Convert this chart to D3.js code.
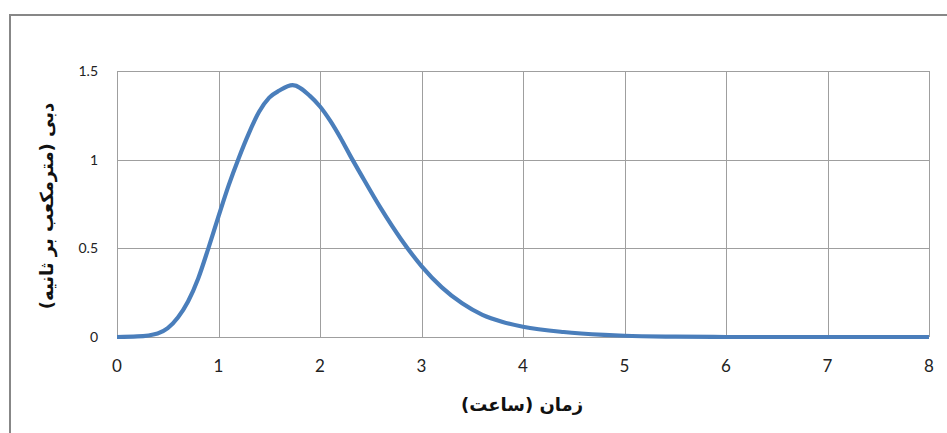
<!DOCTYPE html>
<html>
<head>
<meta charset="utf-8">
<script src="https://cdn.jsdelivr.net/npm/d3@7"></script>
<style>
  body { margin: 0; background: #fff; }
</style>
</head>
<body>
<svg id="chart"></svg>
<script>
// time in hours
const hours = [0, 0.2, 0.4, 0.5, 0.6, 0.7, 0.8, 0.9, 1.0, 1.1, 1.2, 1.3, 1.4, 1.5, 1.6, 1.73,
    1.9, 2.0, 2.1, 2.2, 2.3, 2.4, 2.6, 2.8, 3.0, 3.2, 3.4, 3.6, 3.8, 4.0, 4.4, 4.8, 5.0, 5.5, 6, 7, 8];
// discharge (m3/s)
const flow = [0, 0.003, 0.02, 0.05, 0.11, 0.2, 0.33, 0.5, 0.68, 0.855, 1.01, 1.15, 1.27, 1.35, 1.39, 1.42,
    1.36, 1.30, 1.22, 1.125, 1.02, 0.92, 0.725, 0.55, 0.40, 0.28, 0.19, 0.125, 0.085, 0.058, 0.028, 0.012, 0.007, 0.002, 0, 0, 0];
const xTicks = [0, 1, 2, 3, 4, 5, 6, 7, 8];
const yTicks = [0, 0.5, 1, 1.5];
const xTitle = 'زمان (ساعت)';
const yTitle = 'دبی (مترمکعب بر ثانیه)';

const data = hours.map((h, i) => ({ x: h, y: flow[i] }));

const width = 947, height = 433;
const plot = { left: 117, right: 929, top: 71, bottom: 337 };

const svg = d3.select('#chart')
    .attr('width', width)
    .attr('height', height);

// outer frame
svg.append('path')
    .attr('d', `M10,${height} L10,15 L${width},15`)
    .attr('fill', 'none')
    .attr('stroke', '#878787')
    .attr('stroke-width', 2);

const xscale = d3.scaleLinear().domain([0, 8]).range([plot.left, plot.right]);
const yscale = d3.scaleLinear().domain([0, 1.5]).range([plot.bottom, plot.top]);

// grid
svg.append('g').selectAll('line')
    .data(xTicks)
    .join('line')
    .attr('x1', d => Math.round(xscale(d)) + 0.5)
    .attr('x2', d => Math.round(xscale(d)) + 0.5)
    .attr('y1', plot.top)
    .attr('y2', plot.bottom)
    .attr('stroke', '#9f9f9f')
    .attr('stroke-width', 1);

svg.append('g').selectAll('line')
    .data(yTicks)
    .join('line')
    .attr('x1', plot.left)
    .attr('x2', plot.right)
    .attr('y1', d => Math.round(yscale(d)) + 0.5)
    .attr('y2', d => Math.round(yscale(d)) + 0.5)
    .attr('stroke', '#9f9f9f')
    .attr('stroke-width', 1);

// tick labels
svg.append('g').selectAll('text')
    .data(xTicks)
    .join('text')
    .attr('x', d => xscale(d))
    .attr('y', 372)
    .attr('text-anchor', 'middle')
    .style('font-family', 'Lato, "Open Sans", sans-serif')
    .style('font-size', '17px')
    .style('fill', '#222')
    .text(d => d);

svg.append('g').selectAll('text')
    .data(yTicks)
    .join('text')
    .attr('x', 98)
    .attr('y', d => yscale(d) + 5)
    .attr('text-anchor', 'end')
    .style('font-family', 'Lato, "Open Sans", sans-serif')
    .style('font-size', '14px')
    .style('fill', '#222')
    .text(d => d);

// curve
const line = d3.line()
    .x(d => xscale(d.x))
    .y(d => yscale(d.y))
    .curve(d3.curveMonotoneX);

svg.append('path')
    .datum(data)
    .attr('d', line)
    .attr('fill', 'none')
    .attr('stroke', '#4a7ebb')
    .attr('stroke-width', 4.2)
    .attr('stroke-linejoin', 'round');

// axis titles
svg.append('text')
    .attr('x', 522)
    .attr('y', 411)
    .attr('text-anchor', 'middle')
    .attr('direction', 'rtl')
    .style('font-family', '"DejaVu Sans", sans-serif')
    .style('font-size', '18px')
    .style('font-weight', 'bold')
    .style('fill', '#111')
    .text(xTitle);

svg.append('text')
    .attr('transform', 'translate(53, 206) rotate(-90)')
    .attr('text-anchor', 'middle')
    .attr('direction', 'rtl')
    .style('font-family', '"DejaVu Sans", sans-serif')
    .style('font-size', '18px')
    .style('font-weight', 'bold')
    .style('fill', '#111')
    .text(yTitle);
</script>
</body>
</html>
